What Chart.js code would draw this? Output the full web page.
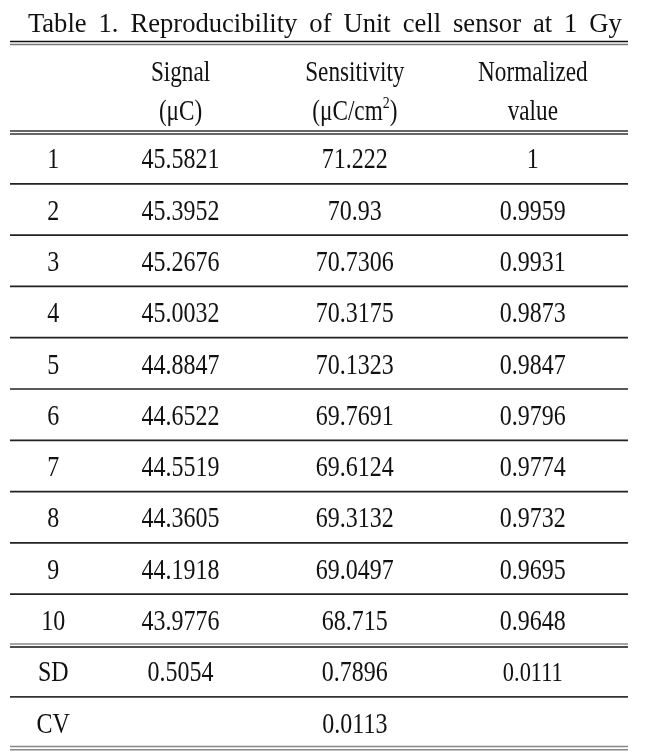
<!DOCTYPE html>
<html>
<head>
<meta charset="utf-8">
<script src="https://cdn.jsdelivr.net/npm/chart.js@4.4.1/dist/chart.umd.min.js"></script>
<style>
  html, body { margin: 0; padding: 0; background: #fff; }
  #wrap { width: 647px; height: 752px; }
</style>
</head>
<body>
<div id="wrap"><canvas id="tableChart" width="647" height="752"></canvas></div>
<script>
// table contents
const titleText = "Table 1. Reproducibility of Unit cell sensor at 1 Gy";
const headerTop = ["", "Signal", "Sensitivity", "Normalized"];
const headerBottom = ["", "(μC)", "(μC/cm^2)", "value"];
const runs = ["1", "2", "3", "4", "5", "6", "7", "8", "9", "10"];
const signal = [45.5821, 45.3952, 45.2676, 45.0032, 44.8847, 44.6522, 44.5519, 44.3605, 44.1918, 43.9776];
const sensitivity = [71.222, 70.93, 70.7306, 70.3175, 70.1323, 69.7691, 69.6124, 69.3132, 69.0497, 68.715];
const normalized = [1, 0.9959, 0.9931, 0.9873, 0.9847, 0.9796, 0.9774, 0.9732, 0.9695, 0.9648];
const sdLabel = "SD";
const sdValues = [0.5054, 0.7896, 0.0111];
const cvLabel = "CV";
const cvValue = 0.0113;

const SERIF = '"Liberation Serif", "Times New Roman", serif';
// x in table-width fractions, y in row units (0 = bottom of header)
const colX = [0.070, 0.276, 0.558, 0.846];

function drawText(ctx, str, x, y, size, squeeze) {
  ctx.save();
  ctx.translate(x, y);
  ctx.scale(squeeze, 1);
  ctx.fillStyle = "#111";
  ctx.textBaseline = "alphabetic";
  ctx.textAlign = "left";
  const parts = str.split(/\^(\d)/);
  let total = 0;
  parts.forEach((p, i) => {
    ctx.font = (i % 2 ? size * 0.6 : size) + "px " + SERIF;
    total += ctx.measureText(p).width;
  });
  let cx = -total / 2;
  const base = size * 0.34;
  parts.forEach((p, i) => {
    const sup = i % 2 === 1;
    ctx.font = (sup ? size * 0.6 : size) + "px " + SERIF;
    ctx.fillText(p, cx, sup ? base - size * 0.4 : base);
    cx += ctx.measureText(p).width;
  });
  ctx.restore();
}

function rule(ctx, x0, x1, y, color, w) {
  ctx.save();
  ctx.strokeStyle = color;
  ctx.lineWidth = w;
  ctx.beginPath();
  ctx.moveTo(x0, y);
  ctx.lineTo(x1, y);
  ctx.stroke();
  ctx.restore();
}

const tablePlugin = {
  id: "tablePlugin",
  afterDraw(chart) {
    const ctx = chart.ctx;
    const xs = chart.scales.x, ys = chart.scales.y;
    const px = (v) => xs.getPixelForValue(v);
    const py = (v) => ys.getPixelForValue(v);
    const left = px(0), right = px(1);

    // title, justified across the page width
    ctx.save();
    const tSize = 28, tSq = 0.95;
    ctx.font = tSize + "px " + SERIF;
    const words = titleText.split(" ");
    const widths = words.map((w) => ctx.measureText(w).width * tSq);
    const tl = px(0.029), tr = px(0.99);
    const sum = widths.reduce((a, b) => a + b, 0);
    const gap = Math.max((tr - tl - sum) / (words.length - 1), 6);
    let tx = tl;
    words.forEach((w, i) => {
      drawText(ctx, w, tx + widths[i] / 2, py(-2.154), tSize, tSq);
      tx += widths[i] + gap;
    });
    ctx.restore();

    // header
    headerTop.forEach((h, i) => { if (h) drawText(ctx, h, px(colX[i]), py(-1.2), 29, 0.8); });
    headerBottom.forEach((h, i) => { if (h) drawText(ctx, h, px(colX[i]), py(-0.44), 29, 0.8); });

    // body rows
    runs.forEach((r, i) => {
      const yc = py(i + 0.5);
      drawText(ctx, r, px(colX[0]), yc, 30, 0.8);
      drawText(ctx, String(signal[i]), px(colX[1]), yc, 30, 0.8);
      drawText(ctx, String(sensitivity[i]), px(colX[2]), yc, 30, 0.8);
      drawText(ctx, String(normalized[i]), px(colX[3]), yc, 30, 0.8);
    });
    const ySd = py(runs.length + 0.5);
    drawText(ctx, sdLabel, px(colX[0]), ySd, 30, 0.8);
    sdValues.forEach((v, i) => drawText(ctx, String(v), px(colX[i + 1]), ySd, i === 2 ? 28 : 30, 0.8));
    const yCv = py(runs.length + 1.5);
    drawText(ctx, cvLabel, px(colX[0]), yCv, 30, 0.8);
    drawText(ctx, String(cvValue), px(colX[2]), yCv, 30, 0.8);

    // rules
    const dbl = (v, c1, c2) => {
      const y = py(v);
      rule(ctx, left, right, y - 1.6, c1, 1.5);
      rule(ctx, left, right, y + 1.6, c2, 1.5);
    };
    dbl(-1.745, "#111", "#777");
    dbl(0, "#333", "#333");
    for (let i = 1; i < runs.length; i++) rule(ctx, left, right, py(i), "#222", 1.7);
    dbl(runs.length, "#888", "#111");
    rule(ctx, left, right, py(runs.length + 1), "#333", 1.8);
    dbl(runs.length + 2, "#888", "#888");
  }
};

new Chart(document.getElementById("tableChart"), {
  type: "scatter",
  data: { datasets: [] },
  options: {
    responsive: false,
    animation: false,
    devicePixelRatio: 1,
    layout: { padding: 0 },
    plugins: { legend: { display: false }, tooltip: { enabled: false } },
    scales: {
      x: { type: "linear", display: false, min: -10 / 618, max: 637 / 618 },
      y: { type: "linear", display: false, reverse: true, min: -132.5 / 51.3, max: 619.5 / 51.3 }
    }
  },
  plugins: [tablePlugin]
});
</script>
</body>
</html>
